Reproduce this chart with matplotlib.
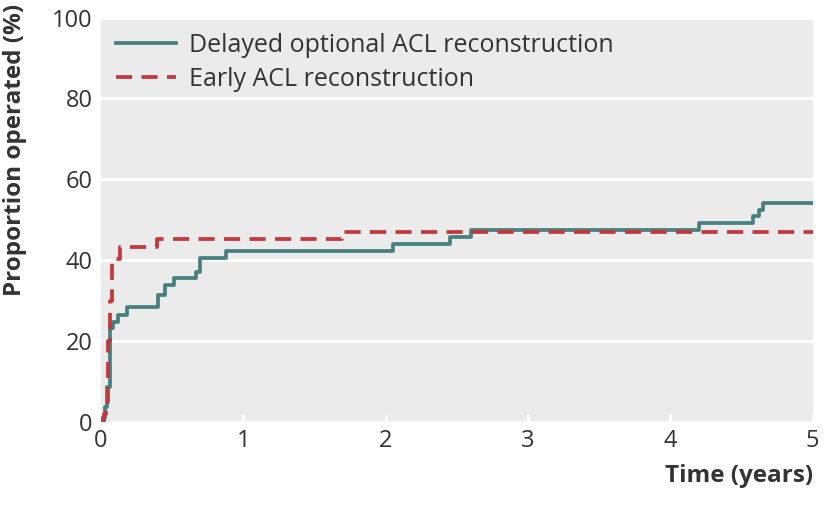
import numpy as np
import matplotlib
matplotlib.use('Agg')
import matplotlib.pyplot as plt

# delayed optional ACL reconstruction (teal), step points (years, %)
delayed_t = [0.0, 0.01, 0.025, 0.04, 0.063, 0.087, 0.12, 0.18, 0.40, 0.45, 0.51,
             0.67, 0.695, 0.88, 2.05, 2.45, 2.60, 4.20, 4.58, 4.62, 4.65, 5.0]
delayed_p = [0.0, 1.0, 3.8, 8.7, 23.3, 24.8, 26.5, 28.5, 31.4, 33.9, 35.6,
             37.2, 40.5, 42.4, 44.0, 45.8, 47.5, 49.3, 51.0, 52.5, 54.2, 54.2]

# early ACL reconstruction (red dashed)
early_t = [0.0, 0.02, 0.035, 0.05, 0.065, 0.075, 0.13, 0.39, 1.69, 5.0]
early_p = [0.0, 2.0, 5.0, 20.0, 30.0, 40.3, 43.4, 45.2, 46.9, 46.9]

xticks = [0, 1, 2, 3, 4, 5]
yticks = [0, 20, 40, 60, 80, 100]

teal = '#47807f'
red = '#c3383b'
txt = '#333333'

plt.rcParams['font.family'] = ['Open Sans', 'DejaVu Sans']

fig = plt.figure(figsize=(8.24, 5.08), dpi=100)
ax = fig.add_axes([0.1226, 0.169, 0.8637, 0.7964])
ax.set_facecolor('#ebebeb')

ax.step(delayed_t, delayed_p, where='post', color=teal, lw=2.7,
        label='Delayed optional ACL reconstruction', zorder=3)
ax.step(early_t, early_p, where='post', color=red, lw=2.7, dashes=(4.3, 2.5),
        label='Early ACL reconstruction', zorder=3)

ax.set_xlim(0, 5)
ax.set_ylim(0, 100)
ax.set_xticks(xticks)
ax.set_yticks(yticks)
ax.grid(axis='y', color='white', lw=2)
ax.set_axisbelow(True)
for s in ax.spines.values():
    s.set_visible(False)

ax.tick_params(axis='y', length=0, pad=6, labelsize=17, labelcolor=txt)
ax.tick_params(axis='x', direction='in', length=6, width=2, color='white',
               pad=5, labelsize=17, labelcolor=txt)

# y label sits at the top left of the figure, not centred on the axis
fig.text(15 / 824, 1 - 4 / 508, 'Proportion operated (%)', rotation=90,
         ha='center', va='top', fontsize=17.5, fontweight='bold', color=txt)
ax.set_xlabel('Time (years)', fontsize=17.5, fontweight='bold',
              color=txt, loc='right', labelpad=8)

ax.legend(loc='upper left', frameon=False, fontsize=18, handlelength=2.4,
          handletextpad=0.5, labelspacing=0.38, borderpad=0.25,
          borderaxespad=0.35, labelcolor=txt)

fig.savefig('out.png', dpi=100)
